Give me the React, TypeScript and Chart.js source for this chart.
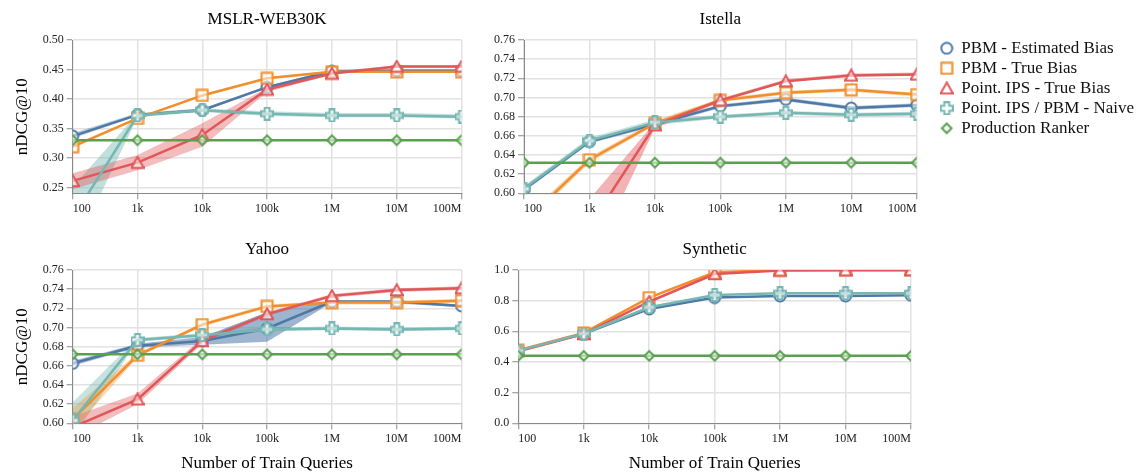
import { useEffect, useRef } from 'react';
import { Chart, registerables } from 'chart.js';

Chart.register(...registerables);

const FONT = '"Liberation Serif", "Times New Roman", serif';

const queryLabels = ['100', '1k', '10k', '100k', '1M', '10M', '100M'];
const seriesNames = [
  'PBM - Estimated Bias',
  'PBM - True Bias',
  'Point. IPS - True Bias',
  'Point. IPS / PBM - Naive',
  'Production Ranker',
];
const seriesColors = ['#4e79a7', '#f28e2b', '#e15759', '#76b7b2', '#59a14f'];
const seriesShapes = ['circle', 'square', 'triangle', 'plus', 'diamond'];

// ---- MSLR-WEB30K ----
const mslrEstimated = [0.337, 0.373, 0.381, 0.42, 0.447, 0.448, 0.448];
const mslrTrue = [0.319, 0.367, 0.406, 0.435, 0.446, 0.446, 0.446];
const mslrIps = [0.261, 0.292, 0.339, 0.416, 0.443, 0.455, 0.455];
const mslrNaive = [0.198, 0.372, 0.381, 0.375, 0.372, 0.372, 0.37];
const mslrProd = [0.33, 0.33, 0.33, 0.33, 0.33, 0.33, 0.33];
const mslrEstimatedLow = [0.333, 0.371, 0.379, 0.418, 0.445, 0.446, 0.446];
const mslrEstimatedHigh = [0.342, 0.376, 0.384, 0.422, 0.449, 0.45, 0.45];
const mslrTrueLow = [0.316, 0.365, 0.404, 0.433, 0.444, 0.444, 0.444];
const mslrTrueHigh = [0.322, 0.369, 0.408, 0.437, 0.448, 0.448, 0.448];
const mslrIpsLow = [0.247, 0.279, 0.319, 0.412, 0.441, 0.453, 0.453];
const mslrIpsHigh = [0.274, 0.305, 0.359, 0.419, 0.446, 0.457, 0.457];
const mslrNaiveLow = [0.14, 0.369, 0.378, 0.371, 0.369, 0.369, 0.367];
const mslrNaiveHigh = [0.251, 0.375, 0.384, 0.379, 0.376, 0.376, 0.374];
const mslrTicks = [0.25, 0.3, 0.35, 0.4, 0.45, 0.5];

// ---- Istella ----
const istellaEstimated = [0.604, 0.654, 0.672, 0.691, 0.698, 0.689, 0.692];
const istellaTrue = [0.57, 0.635, 0.673, 0.697, 0.705, 0.708, 0.703];
const istellaIps = [0.47, 0.566, 0.671, 0.697, 0.717, 0.723, 0.724];
const istellaNaive = [0.605, 0.655, 0.674, 0.68, 0.684, 0.682, 0.683];
const istellaProd = [0.632, 0.632, 0.632, 0.632, 0.632, 0.632, 0.632];
const istellaEstimatedLow = [0.602, 0.652, 0.670, 0.689, 0.696, 0.687, 0.690];
const istellaEstimatedHigh = [0.606, 0.656, 0.674, 0.693, 0.700, 0.691, 0.694];
const istellaTrueLow = [0.565, 0.632, 0.671, 0.695, 0.703, 0.706, 0.701];
const istellaTrueHigh = [0.575, 0.638, 0.676, 0.699, 0.707, 0.71, 0.705];
const istellaIpsLow = [0.42, 0.524, 0.668, 0.695, 0.716, 0.722, 0.723];
const istellaIpsHigh = [0.52, 0.594, 0.674, 0.699, 0.719, 0.725, 0.726];
const istellaNaiveLow = [0.602, 0.652, 0.671, 0.678, 0.682, 0.68, 0.681];
const istellaNaiveHigh = [0.608, 0.658, 0.677, 0.682, 0.686, 0.684, 0.685];
const istellaTicks = [0.6, 0.62, 0.64, 0.66, 0.68, 0.7, 0.72, 0.74, 0.76];

// ---- Yahoo ----
const yahooEstimated = [0.6625, 0.681, 0.686, 0.699, 0.727, 0.727, 0.7225];
const yahooTrue = [0.604, 0.671, 0.703, 0.722, 0.726, 0.726, 0.728];
const yahooIps = [0.596, 0.625, 0.686, 0.714, 0.733, 0.739, 0.741];
const yahooNaive = [0.603, 0.687, 0.692, 0.698, 0.699, 0.698, 0.699];
const yahooProd = [0.672, 0.672, 0.672, 0.672, 0.672, 0.672, 0.672];
const yahooEstimatedLow = [0.66, 0.679, 0.682, 0.685, 0.726, 0.725, 0.721];
const yahooEstimatedHigh = [0.665, 0.683, 0.69, 0.716, 0.728, 0.728, 0.724];
const yahooTrueLow = [0.592, 0.669, 0.701, 0.72, 0.724, 0.724, 0.726];
const yahooTrueHigh = [0.616, 0.673, 0.705, 0.724, 0.728, 0.728, 0.73];
const yahooIpsLow = [0.585, 0.62, 0.683, 0.712, 0.731, 0.737, 0.739];
const yahooIpsHigh = [0.607, 0.631, 0.689, 0.716, 0.735, 0.741, 0.743];
const yahooNaiveLow = [0.585, 0.685, 0.69, 0.696, 0.697, 0.696, 0.697];
const yahooNaiveHigh = [0.622, 0.689, 0.694, 0.7, 0.701, 0.7, 0.701];
const yahooTicks = [0.6, 0.62, 0.64, 0.66, 0.68, 0.7, 0.72, 0.74, 0.76];

// ---- Synthetic ----
const synthEstimated = [0.474, 0.583, 0.746, 0.82, 0.83, 0.83, 0.835];
const synthTrue = [0.476, 0.59, 0.82, 0.985, 1.0, 1.0, 1.0];
const synthIps = [0.47, 0.582, 0.793, 0.974, 0.996, 0.998, 0.999];
const synthNaive = [0.474, 0.585, 0.757, 0.837, 0.848, 0.848, 0.848];
const synthProd = [0.44, 0.44, 0.44, 0.44, 0.44, 0.44, 0.44];
const synthTicks = [0, 0.2, 0.4, 0.6, 0.8, 1.0];

type Band = { series: number; low: number[]; high: number[]; alpha: number };
type Panel = {
  title: string;
  means: number[][];
  bands: Band[];
  yMin: number;
  yMax: number;
  yTicks: number[];
  decimals: number;
  showYTitle: boolean;
  showXTitle: boolean;
  box: { left: number; top: number; width: number; height: number };
  yWidth: number;
  xHeight: number;
  padRight: number;
};

const panels: Panel[] = [
  {
    title: 'MSLR-WEB30K',
    means: [mslrEstimated, mslrTrue, mslrIps, mslrNaive, mslrProd],
    bands: [
      { series: 0, low: mslrEstimatedLow, high: mslrEstimatedHigh, alpha: 0.4 },
      { series: 1, low: mslrTrueLow, high: mslrTrueHigh, alpha: 0.3 },
      { series: 2, low: mslrIpsLow, high: mslrIpsHigh, alpha: 0.4 },
      { series: 3, low: mslrNaiveLow, high: mslrNaiveHigh, alpha: 0.45 },
    ],
    yMin: 0.24, yMax: 0.5, yTicks: mslrTicks, decimals: 2,
    showYTitle: true, showXTitle: false,
    box: { left: 0, top: 0, width: 470, height: 225 },
    yWidth: 72.7, xHeight: 31.7, padRight: 4.3,
  },
  {
    title: 'Istella',
    means: [istellaEstimated, istellaTrue, istellaIps, istellaNaive, istellaProd],
    bands: [
      { series: 0, low: istellaEstimatedLow, high: istellaEstimatedHigh, alpha: 0.4 },
      { series: 1, low: istellaTrueLow, high: istellaTrueHigh, alpha: 0.35 },
      { series: 2, low: istellaIpsLow, high: istellaIpsHigh, alpha: 0.45 },
      { series: 3, low: istellaNaiveLow, high: istellaNaiveHigh, alpha: 0.4 },
    ],
    yMin: 0.6, yMax: 0.76, yTicks: istellaTicks, decimals: 2,
    showYTitle: false, showXTitle: false,
    box: { left: 470, top: 0, width: 460, height: 225 },
    yWidth: 54, xHeight: 31.7, padRight: 13.3,
  },
  {
    title: 'Yahoo',
    means: [yahooEstimated, yahooTrue, yahooIps, yahooNaive, yahooProd],
    bands: [
      { series: 0, low: yahooEstimatedLow, high: yahooEstimatedHigh, alpha: 0.55 },
      { series: 1, low: yahooTrueLow, high: yahooTrueHigh, alpha: 0.35 },
      { series: 2, low: yahooIpsLow, high: yahooIpsHigh, alpha: 0.4 },
      { series: 3, low: yahooNaiveLow, high: yahooNaiveHigh, alpha: 0.4 },
    ],
    yMin: 0.6, yMax: 0.76, yTicks: yahooTicks, decimals: 2,
    showYTitle: true, showXTitle: true,
    box: { left: 0, top: 230, width: 470, height: 242 },
    yWidth: 72.7, xHeight: 48.7, padRight: 4.3,
  },
  {
    title: 'Synthetic',
    means: [synthEstimated, synthTrue, synthIps, synthNaive, synthProd],
    bands: [],
    yMin: 0, yMax: 1.0, yTicks: synthTicks, decimals: 1,
    showYTitle: false, showXTitle: true,
    box: { left: 470, top: 230, width: 460, height: 242 },
    yWidth: 48.3, xHeight: 48.7, padRight: 19,
  },
];

function rgba(hex: string, a: number) {
  const n = parseInt(hex.slice(1), 16);
  return `rgba(${(n >> 16) & 255},${(n >> 8) & 255},${n & 255},${a})`;
}

function makeMarker(shape: string, color: string): HTMLCanvasElement {
  const s = 14;
  const c = document.createElement('canvas');
  c.width = s;
  c.height = s;
  const g = c.getContext('2d')!;
  const m = s / 2;
  g.lineWidth = 2;
  g.strokeStyle = color;
  g.fillStyle = 'rgba(255,255,255,0.55)';
  g.beginPath();
  if (shape === 'circle') {
    g.arc(m, m, 5.5, 0, Math.PI * 2);
  } else if (shape === 'square') {
    g.rect(m - 5.5, m - 5.5, 11, 11);
  } else if (shape === 'triangle') {
    g.moveTo(m, 1.3);
    g.lineTo(m + 6.2, 12.2);
    g.lineTo(m - 6.2, 12.2);
    g.closePath();
  } else if (shape === 'plus') {
    const a = 2.4;
    const b = 6;
    const pts = [
      [m - a, m - b], [m + a, m - b], [m + a, m - a], [m + b, m - a],
      [m + b, m + a], [m + a, m + a], [m + a, m + b], [m - a, m + b],
      [m - a, m + a], [m - b, m + a], [m - b, m - a], [m - a, m - a],
    ];
    pts.forEach(([x, y], i) => (i === 0 ? g.moveTo(x, y) : g.lineTo(x, y)));
    g.closePath();
  } else {
    const r = 4.8;
    g.moveTo(m, m - r);
    g.lineTo(m + r, m);
    g.lineTo(m, m + r);
    g.lineTo(m - r, m);
    g.closePath();
  }
  g.fill();
  g.stroke();
  return c;
}

const AXIS = '#888888';
const GRID = '#e2e2e2';
const TEXT = '#222222';

function panelConfig(p: Panel, markers: HTMLCanvasElement[]): any {
  const datasets: any[] = [];
  p.bands.forEach((b) => {
    datasets.push({
      label: '',
      data: b.low,
      borderWidth: 0,
      borderColor: 'transparent',
      pointRadius: 0,
      fill: false,
      clip: 0,
      order: 20,
    });
    datasets.push({
      label: '',
      data: b.high,
      borderWidth: 0,
      borderColor: 'transparent',
      backgroundColor: rgba(seriesColors[b.series], b.alpha),
      pointRadius: 0,
      fill: '-1',
      clip: 0,
      order: 20,
    });
  });
  p.means.forEach((d, i) => {
    datasets.push({
      label: seriesNames[i],
      data: d,
      borderColor: seriesColors[i],
      backgroundColor: seriesColors[i],
      borderWidth: 2.5,
      pointStyle: markers[i],
      pointRadius: 6,
      fill: false,
      tension: 0,
      clip: 0,
      order: 5 - i,
    });
  });
  const tickFont = { family: FONT, size: 12 };
  return {
    type: 'line',
    data: { labels: queryLabels, datasets },
    options: {
      animation: false,
      responsive: false,
      events: [],
      layout: { padding: { left: 0, right: p.padRight, top: 0, bottom: 0 } },
      plugins: {
        legend: { display: false },
        tooltip: { enabled: false },
        title: {
          display: true,
          text: p.title,
          fullSize: false,
          color: '#000',
          font: { family: FONT, size: 17, weight: 'normal', lineHeight: 1.2 },
          padding: { top: 9, bottom: 10.6 },
        },
      },
      scales: {
        x: {
          type: 'category',
          offset: false,
          grid: { color: GRID, lineWidth: 1.5, tickColor: AXIS, tickWidth: 1, tickLength: 6 },
          border: { color: AXIS, width: 1 },
          ticks: { align: 'inner', font: tickFont, color: TEXT, padding: 2, maxRotation: 0, autoSkip: false },
          title: {
            display: p.showXTitle,
            text: 'Number of Train Queries',
            color: '#000',
            font: { family: FONT, size: 17, lineHeight: 1 },
            padding: 0,
          },
          afterFit: (s: any) => {
            s.height = p.xHeight;
          },
        },
        y: {
          type: 'linear',
          min: p.yMin,
          max: p.yMax,
          afterBuildTicks: (s: any) => {
            s.ticks = p.yTicks.map((v) => ({ value: v }));
          },
          grid: { color: GRID, lineWidth: 1.5, tickColor: AXIS, tickWidth: 1, tickLength: 6 },
          border: { color: AXIS, width: 1 },
          ticks: {
            font: tickFont,
            color: TEXT,
            padding: 3,
            callback: (v: any) => Number(v).toFixed(p.decimals),
          },
          title: {
            display: p.showYTitle,
            text: 'nDCG@10',
            color: '#000',
            font: { family: FONT, size: 17, lineHeight: 1.2 },
            padding: { top: 12, bottom: 0 },
          },
          afterFit: (s: any) => {
            s.width = p.yWidth;
          },
        },
      },
    },
  };
}

function legendConfig(markers: HTMLCanvasElement[]): any {
  return {
    type: 'line',
    data: {
      labels: [''],
      datasets: seriesNames.map((name, i) => ({
        label: name,
        data: [null],
        borderColor: seriesColors[i],
        backgroundColor: seriesColors[i],
        pointStyle: markers[i],
        pointRadius: 6,
      })),
    },
    options: {
      animation: false,
      responsive: false,
      events: [],
      layout: { padding: { left: 7.7, top: 6.8, right: 0, bottom: 0 } },
      scales: { x: { display: false }, y: { display: false } },
      plugins: {
        tooltip: { enabled: false },
        title: { display: false },
        legend: {
          display: true,
          position: 'left',
          align: 'start',
          fullSize: true,
          maxWidth: 205,
          labels: {
            usePointStyle: true,
            boxWidth: 12,
            boxHeight: 12,
            padding: 3,
            color: '#111',
            font: { family: FONT, size: 17 },
          },
        },
      },
    },
  };
}

export default function App() {
  const refs = useRef<(HTMLCanvasElement | null)[]>([]);
  const legendRef = useRef<HTMLCanvasElement | null>(null);

  useEffect(() => {
    const markers = seriesShapes.map((s, i) => makeMarker(s, seriesColors[i]));
    const charts: Chart[] = [];
    panels.forEach((p, i) => {
      const c = refs.current[i];
      if (c) charts.push(new Chart(c, panelConfig(p, markers)));
    });
    if (legendRef.current) charts.push(new Chart(legendRef.current, legendConfig(markers)));
    return () => charts.forEach((c) => c.destroy());
  }, []);

  return (
    <div style={{ position: 'fixed', left: 0, top: 0, width: 1141, height: 472, background: '#fff', overflow: 'hidden' }}>
      {panels.map((p, i) => (
        <canvas
          key={p.title}
          ref={(el) => {
            refs.current[i] = el;
          }}
          width={p.box.width}
          height={p.box.height}
          style={{ position: 'absolute', left: p.box.left, top: p.box.top, width: p.box.width, height: p.box.height }}
        />
      ))}
      <canvas
        ref={legendRef}
        width={211}
        height={140}
        style={{ position: 'absolute', left: 930, top: 30, width: 211, height: 140 }}
      />
    </div>
  );
}
